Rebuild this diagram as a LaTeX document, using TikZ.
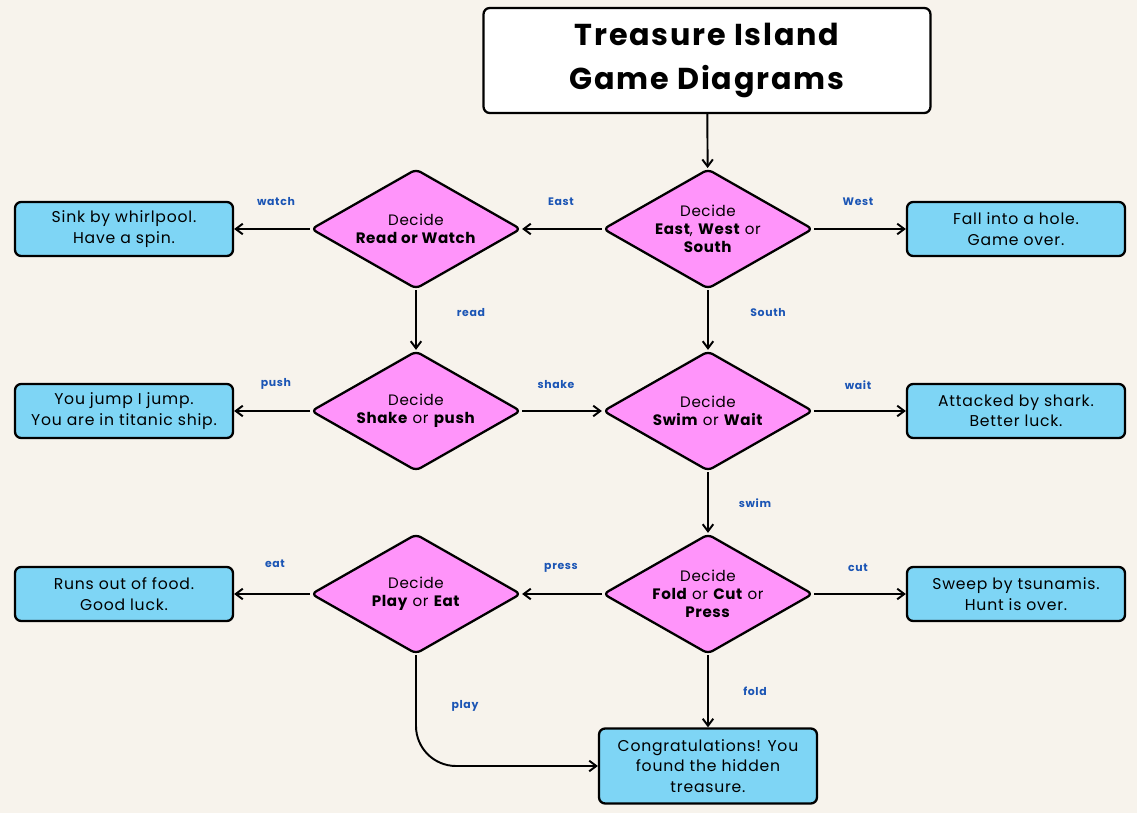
\documentclass[tikz,border=0pt]{standalone}
\usepackage{fontspec}
\setmainfont{Poppins}
\usetikzlibrary{shapes.geometric,arrows.meta}

\definecolor{bgcream}{HTML}{F7F3EC}
\definecolor{decipink}{HTML}{FF94FA}
\definecolor{endblue}{HTML}{7ED5F5}
\definecolor{lblblue}{HTML}{1B55B5}

\tikzset{
  deci/.style={diamond, draw, line width=1.3pt, fill=decipink, minimum width=4.2cm,
    minimum height=2.4cm, inner sep=0pt, rounded corners=3pt},
  decitext/.style={align=center, font=\fontsize{8.6}{10.2}\selectfont\addfontfeatures{LetterSpace=4}},
  endbox/.style={rectangle, draw, line width=1.3pt, fill=endblue, rounded corners=3.5pt,
    minimum width=4.36cm, minimum height=1.08cm, align=center,
    font=\fontsize{8.9}{11.6}\selectfont\addfontfeatures{LetterSpace=5}},
  lbl/.style={text=lblblue, font=\fontsize{6.2}{7}\selectfont\bfseries\addfontfeatures{LetterSpace=6}},
  link/.style={line width=1.1pt, -{Straight Barb[length=4pt,width=6pt]}}
}

\begin{document}
\begin{tikzpicture}[x=0.02cm, y=-0.02cm]
    % --- Hintergrund ---
    \fill[bgcream] (0,0) rectangle (1137,813);
    \useasboundingbox (0,0) rectangle (1137,813);

    % --- Titel ---
    \node[draw, line width=1.3pt, fill=white, rounded corners=3.5pt, minimum width=8.94cm,
      minimum height=2.1cm, align=center,
      font=\fontsize{17.2}{24.8}\selectfont\bfseries\addfontfeatures{LetterSpace=6}]
      (title) at (707,60.5) {Treasure Island\\Game Diagrams};

    % --- Entscheidungen ---
    \node[deci, label={[decitext]center:Decide\\\textbf{East}, \textbf{West} or\\\textbf{South}}]
      (dEWS) at (708,229) {};
    \node[deci, label={[decitext]center:Decide\\\textbf{Read or Watch}}]
      (dRW) at (416,229) {};
    \node[deci, label={[decitext]center:Decide\\\textbf{Shake} or \textbf{push}}]
      (dSP) at (416,411) {};
    \node[deci, label={[decitext]center:Decide\\\textbf{Swim} or \textbf{Wait}}]
      (dSW) at (708,411) {};
    \node[deci, label={[decitext]center:Decide\\\textbf{Play} or \textbf{Eat}}]
      (dPE) at (416,594) {};
    \node[deci, label={[decitext]center:Decide\\\textbf{Fold} or \textbf{Cut} or\\\textbf{Press}}]
      (dFCP) at (708,594) {};

    % --- Ergebnisse ---
    \node[endbox] (eWhirl) at (124,229) {Sink by whirlpool.\\Have a spin.};
    \node[endbox] (eHole) at (1016,229) {Fall into a hole.\\Game over.};
    \node[endbox] (eTitanic) at (124,411) {You jump I jump.\\You are in titanic ship.};
    \node[endbox] (eShark) at (1016,411) {Attacked by shark.\\Better luck.};
    \node[endbox] (eFood) at (124,594) {Runs out of food.\\Good luck.};
    \node[endbox] (eTsunami) at (1016,594) {Sweep by tsunamis.\\Hunt is over.};
    \node[endbox, minimum height=1.5cm] (eTreasure) at (708,766)
      {Congratulations! You\\found the hidden\\treasure.};

    % --- Verbindungen ---
    \draw[link] (title) -- (dEWS);
    \draw[link] (dEWS.west) -- (dRW.east);
    \draw[link] (dEWS.east) -- (eHole.west);
    \draw[link] (dEWS.south) -- (dSW.north);
    \draw[link] (dRW.west) -- (eWhirl.east);
    \draw[link] (dRW.south) -- (dSP.north);
    \draw[link] (dSP.west) -- (eTitanic.east);
    \draw[link] (dSP.east) -- (dSW.west);
    \draw[link] (dSW.east) -- (eShark.west);
    \draw[link] (dSW.south) -- (dFCP.north);
    \draw[link] (dFCP.west) -- (dPE.east);
    \draw[link] (dFCP.east) -- (eTsunami.west);
    \draw[link] (dFCP.south) -- (eTreasure.north);
    \draw[link] (dPE.west) -- (eFood.east);
    \draw[link, rounded corners=0.8cm] (dPE.south) |- (eTreasure.west);

    % --- Beschriftungen ---
    \node[lbl] (lWatch) at (276,202) {watch};
    \node[lbl] (lEast) at (561,202) {East};
    \node[lbl] (lWest) at (858,202) {West};
    \node[lbl] (lRead) at (471,313) {read};
    \node[lbl] (lSouth) at (768,313) {South};
    \node[lbl] (lPush) at (276,384) {push};
    \node[lbl] (lShake) at (556,385) {shake};
    \node[lbl] (lWait) at (858,385) {wait};
    \node[lbl] (lSwim) at (755,503) {swim};
    \node[lbl] (lEat) at (275,564) {eat};
    \node[lbl] (lPress) at (561,568) {press};
    \node[lbl] (lCut) at (858,568) {cut};
    \node[lbl] (lFold) at (755,691) {fold};
    \node[lbl] (lPlay) at (465,706) {play};
\end{tikzpicture}
\end{document}
